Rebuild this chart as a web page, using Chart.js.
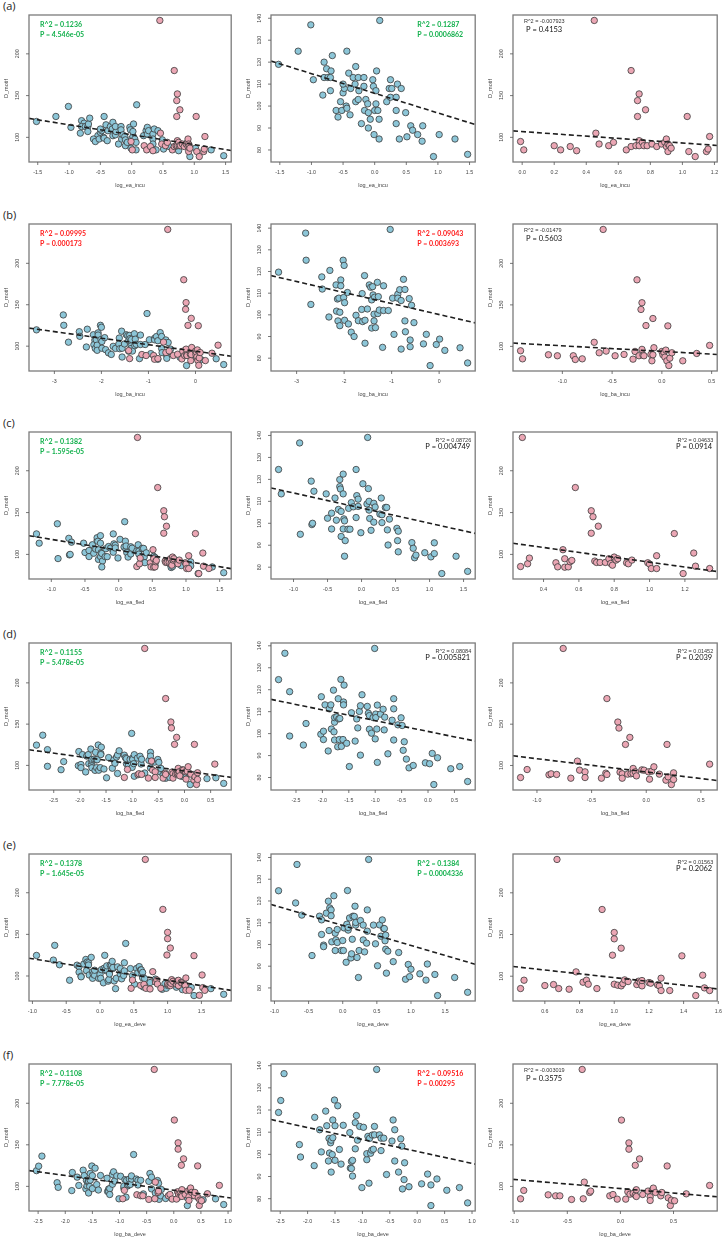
<!DOCTYPE html>
<html>
<head>
<meta charset="utf-8">
<script src="https://cdn.jsdelivr.net/npm/chart.js@4.4.0/dist/chart.umd.min.js"></script>
<style>
body { margin: 0; background: #fff; width: 724px; height: 1240px; position: relative; overflow: hidden; }
canvas { position: absolute; }
.tag { position: absolute; left: 3px; font: 11px "Open Sans", sans-serif; color: #222; line-height: 14px; }
</style>
</head>
<body>
<script>
// Points [x, y]: blue group (middle column), pink group (right column)
const blueA = [[-1.52,119],[-1.01,137],[-1.21,125],[-0.97,112],[-0.80,120],[-0.76,117],[-0.80,113],[-0.74,113],[-0.70,113],[-0.69,116],
  [-0.67,123],[-0.70,107],[-0.82,105],[-0.54,102],[-0.50,106],[-0.48,108],[-0.50,110],[-0.61,98],[-0.58,95],[-0.52,98],
  [-0.45,100],[-0.44,99],[-0.44,125],[-0.41,115],[-0.39,96],[-0.38,108],[-0.34,113],[-0.30,118],[-0.31,110],[-0.30,102],
  [-0.26,103],[-0.25,107],[-0.26,113],[-0.21,92],[-0.17,113],[-0.17,109],[-0.16,98],[-0.14,103],[-0.11,101],[-0.10,97],
  [-0.10,90],[-0.07,94],[-0.03,112],[-0.02,109],[-0.01,87],[0.00,98],[0.02,101],[0.02,107],[0.03,116],[0.05,98],
  [0.07,85],[0.07,94],[0.08,139],[0.19,102],[0.23,108],[0.25,104],[0.25,112],[0.27,108],[0.34,104],[0.34,98],
  [0.34,92],[0.36,110],[0.39,85],[0.42,108],[0.49,97],[0.51,86],[0.57,91],[0.60,89],[0.68,87],[0.75,84],
  [0.76,91],[1.02,87],[1.27,85],[0.93,77],[1.47,78]];
const pinkA = [[-0.01,95],[0.01,85],[0.20,90],[0.24,85],[0.30,89],[0.34,84],[0.45,240],[0.46,105],[0.48,92],[0.54,90],
  [0.57,94],[0.65,85],[0.68,89],[0.68,180],[0.71,90],[0.72,125],[0.72,144],[0.73,152],[0.73,96],[0.73,90],
  [0.75,94],[0.76,90],[0.77,133],[0.78,90],[0.81,92],[0.84,89],[0.87,92],[0.89,94],[0.90,98],[0.90,89],
  [0.91,92],[0.91,83],[0.92,90],[0.93,87],[1.03,125],[1.04,83],[1.08,77],[1.15,83],[1.16,86],[1.17,101]];

const blueB = [[-3.38,119.7],[-2.81,137.7],[-2.80,125.2],[-2.70,104.8],[-2.47,117.5],[-2.46,111.9],[-2.32,99],[-2.30,120.5],[-2.17,113.8],[-2.14,107.3],
  [-2.16,101.7],[-2.13,97.2],[-2.11,107.7],[-2.09,101.2],[-2.09,95],[-2.07,116.1],[-2.07,113.4],[-2.02,125.2],[-2.00,122.8],[-2.01,108],
  [-1.99,105.6],[-1.99,97.5],[-1.93,110.3],[-1.91,95.8],[-1.85,92],[-1.79,90],[-1.75,99.8],[-1.70,97.3],[-1.62,109.8],[-1.63,102.5],
  [-1.61,96.9],[-1.57,118.1],[-1.56,97.5],[-1.56,86.9],[-1.51,102.7],[-1.47,113.8],[-1.44,112.7],[-1.42,106.9],[-1.42,93.9],[-1.40,113],
  [-1.39,109.2],[-1.37,100.3],[-1.37,97.2],[-1.36,108.1],[-1.34,94.1],[-1.30,115],[-1.28,108.4],[-1.29,100.6],[-1.26,102.2],[-1.19,85],
  [-1.17,113.4],[-1.17,102],[-1.07,102],[-1.03,139.4],[-0.98,107.7],[-0.95,91],[-0.87,109.5],[-0.87,107.7],[-0.83,111.6],[-0.80,106.6],
  [-0.80,84.2],[-0.75,116.4],[-0.72,111.7],[-0.72,97.2],[-0.71,92.2],[-0.63,107.5],[-0.61,88.4],[-0.61,85.3],[-0.58,104.4],[-0.53,96.4],
  [-0.33,86.6],[-0.27,91],[-0.19,76.6],[-0.06,86.3],[0.01,88.8],[0.12,83.6],[0.44,84.8],[0.60,77.8]];
const pinkB = [[-1.42,94.7],[-1.40,85],[-1.14,89.9],[-1.05,88.7],[-0.89,88.7],[-0.87,84.2],[-0.80,85],[-0.68,104.9],[-0.63,92.3],[-0.59,240.9],
  [-0.56,94.3],[-0.47,88.7],[-0.38,90.3],[-0.29,84.6],[-0.27,93.9],[-0.25,180.2],[-0.23,88.7],[-0.21,144.5],[-0.20,152.6],[-0.20,96.4],
  [-0.19,89.5],[-0.18,88.7],[-0.16,125.1],[-0.11,90.3],[-0.10,82.6],[-0.09,133.6],[-0.09,89.9],[-0.08,98.4],[0.00,93.9],[0.01,89.9],
  [0.02,92.7],[0.03,87],[0.04,95.5],[0.05,82.6],[0.07,76.9],[0.06,124.7],[0.08,85.8],[0.10,92.3],[0.21,82.6],[0.35,91.5],[0.48,101.2]];

const blueC = [[-1.22,124.5],[-1.18,113.4],[-0.91,136.6],[-0.90,95],[-0.74,119.2],[-0.73,99.4],[-0.72,100],[-0.70,114.6],[-0.52,113.4],[-0.50,102.3],
  [-0.44,97.4],[-0.44,104.6],[-0.39,111.5],[-0.37,101.4],[-0.34,106.3],[-0.32,116.7],[-0.32,119.9],[-0.31,115.6],[-0.30,105.4],[-0.30,94],
  [-0.27,97.4],[-0.27,113.4],[-0.27,122.4],[-0.26,102],[-0.25,101.1],[-0.24,92.1],[-0.25,85],[-0.20,97.3],[-0.19,106.8],[-0.17,97.3],
  [-0.15,109.4],[-0.12,107.5],[-0.08,102.6],[-0.08,124.5],[-0.07,112.6],[-0.05,111],[-0.05,107.7],[-0.01,95.7],[0.02,118],[0.08,108.8],
  [0.09,139.1],[0.10,115.8],[0.11,106],[0.11,110],[0.12,102.2],[0.14,96.8],[0.18,109.1],[0.18,100.5],[0.20,107.4],[0.27,104.2],
  [0.29,111.5],[0.30,103.9],[0.30,100.3],[0.35,107.2],[0.37,107.2],[0.38,97],[0.39,90.1],[0.41,101.9],[0.52,97.7],[0.53,92.1],
  [0.54,96.4],[0.54,87],[0.74,91.2],[0.76,88.6],[0.78,84.3],[0.80,85.5],[0.93,86.6],[1.02,84.7],[1.07,91.1],[1.07,86.2],
  [1.18,77.1],[1.39,85],[1.56,78.1]];
const pinkC = [[0.27,85.5],[0.28,239.8],[0.31,88.8],[0.32,95.6],[0.47,90],[0.48,85.1],[0.51,105.6],[0.52,84.7],[0.52,94.8],[0.54,85.1],
  [0.55,91.2],[0.56,92.8],[0.58,179.9],[0.67,152.2],[0.67,125.3],[0.68,145],[0.69,92],[0.70,90.4],[0.71,133.7],[0.72,90.4],
  [0.75,90.4],[0.77,94.8],[0.78,89.2],[0.79,87.1],[0.80,96.8],[0.81,93.2],[0.82,94.8],[0.87,90],[0.88,88.8],[0.90,93.2],
  [0.99,90],[1.00,88.4],[1.01,83.1],[1.04,83.1],[1.04,98.4],[1.14,124.9],[1.19,77.1],[1.25,101.6],[1.26,85.9],[1.34,83.1]];

const blueD = [[-2.83,124.6],[-2.71,136.6],[-2.62,98.9],[-2.62,119.1],[-2.36,94.8],[-2.31,104.6],[-2.02,116.8],[-2.03,99.7],[-1.98,101.1],[-1.98,97.3],
  [-1.95,113.1],[-1.89,92.1],[-1.87,111.3],[-1.84,113.1],[-1.83,102.1],[-1.79,119.8],[-1.78,100.8],[-1.77,105.2],[-1.77,107.3],[-1.77,97.1],
  [-1.73,107.6],[-1.71,94],[-1.70,115.9],[-1.69,106.7],[-1.68,97.3],[-1.67,106.9],[-1.65,124.7],[-1.64,94.2],[-1.61,97.3],[-1.60,114.4],
  [-1.60,113.1],[-1.59,122.1],[-1.54,95.6],[-1.49,85],[-1.45,109.5],[-1.38,96.6],[-1.35,106.7],[-1.33,102.6],[-1.30,110.1],[-1.28,112.7],
  [-1.28,90.2],[-1.25,117.7],[-1.15,112.4],[-1.13,109.3],[-1.11,102],[-1.11,108.2],[-1.07,100.2],[-1.04,107.3],[-1.01,138.8],[-1.00,97.6],
  [-0.99,108.9],[-0.99,107.3],[-0.97,102.1],[-0.96,113],[-0.96,86.9],[-0.90,108.9],[-0.85,111.1],[-0.83,101.7],[-0.82,107.5],[-0.76,90.8],
  [-0.68,106.1],[-0.65,115.9],[-0.65,111.3],[-0.65,97.1],[-0.57,104],[-0.51,107.2],[-0.49,103.7],[-0.47,92.4],[-0.45,96.3],[-0.41,88.4],
  [-0.36,84.4],[-0.28,85.5],[-0.05,86.7],[0.03,86.3],[0.08,91],[0.11,76.8],[0.18,89],[0.43,84],[0.60,85],[0.75,78.2]];
const pinkD = [[-1.15,85.4],[-1.09,95.1],[-0.89,88.7],[-0.87,89.9],[-0.82,89.1],[-0.76,241.7],[-0.69,84.6],[-0.63,105.3],[-0.61,94.3],[-0.56,92.3],
  [-0.56,85.4],[-0.41,84.6],[-0.37,90.7],[-0.36,89.1],[-0.36,181],[-0.26,152.6],[-0.25,145.3],[-0.24,91.9],[-0.22,89.9],[-0.22,84.6],
  [-0.19,125.5],[-0.17,89.5],[-0.15,134],[-0.14,89.9],[-0.12,96.4],[-0.12,90.3],[-0.10,92.3],[-0.09,87.4],[-0.04,94.7],[-0.02,94.3],
  [0.02,92.3],[0.03,83.4],[0.05,93.1],[0.07,98.4],[0.12,89.5],[0.18,82.2],[0.19,125.5],[0.20,86.2],[0.23,76.9],[0.25,91.1],
  [0.25,83],[0.58,101.6]];

const blueE = [[-0.94,124.7],[-0.69,119.1],[-0.67,136.8],[-0.60,113.5],[-0.45,94.9],[-0.34,113],[-0.31,111.3],[-0.31,104.6],[-0.28,99.7],[-0.28,99],
  [-0.24,114.4],[-0.21,119.9],[-0.20,106.4],[-0.19,116.8],[-0.17,115.9],[-0.17,113.2],[-0.16,101.2],[-0.13,122.4],[-0.11,97.2],[-0.11,105.2],
  [-0.10,102.1],[-0.08,100.9],[-0.08,106.9],[-0.02,97.2],[0.00,101.8],[0.01,97.2],[0.02,107.6],[0.05,91.8],[0.06,109.3],[0.07,124.8],
  [0.08,106.6],[0.08,107.8],[0.10,112.2],[0.12,93.8],[0.13,95.7],[0.14,102.4],[0.15,113],[0.17,112.9],[0.18,117.6],[0.19,108.9],
  [0.19,110.1],[0.21,94],[0.23,84.8],[0.24,97.2],[0.26,111],[0.30,108.9],[0.30,102.1],[0.32,96.6],[0.35,100.6],[0.36,115.9],
  [0.36,106.1],[0.38,139.1],[0.45,108.9],[0.48,100.3],[0.51,90.2],[0.54,109],[0.56,103.8],[0.58,111.3],[0.60,107.3],[0.61,107.3],
  [0.62,101.7],[0.63,104.3],[0.63,97.8],[0.64,86.8],[0.66,96.9],[0.74,92.1],[0.82,96.3],[0.92,84],[0.96,90.8],[0.98,85.2],
  [1.00,88.6],[1.13,86.5],[1.22,83.6],[1.24,91],[1.35,86.2],[1.39,76.5],[1.64,84.8],[1.83,78]];
const pinkE = [[0.46,85.2],[0.48,95.2],[0.60,88.8],[0.65,90],[0.68,85.2],[0.67,240],[0.74,84.4],[0.78,105.2],[0.82,92.8],[0.84,95.2],
  [0.85,90.4],[0.90,85.2],[0.93,180],[0.99,125.2],[1.00,144.8],[1.00,152.4],[1.00,90.4],[1.02,89.2],[1.04,133.6],[1.04,88.4],
  [1.05,91.2],[1.06,95.6],[1.08,93.6],[1.13,90],[1.14,94],[1.15,92.4],[1.16,88.4],[1.16,94.8],[1.20,92.4],[1.21,91.6],
  [1.25,89.6],[1.26,88.4],[1.27,97.6],[1.27,82.8],[1.32,82.8],[1.39,124.4],[1.47,76.8],[1.51,101.2],[1.52,86],[1.55,82.8]];

const blueF = [[-2.53,118.9],[-2.49,124.3],[-2.43,136.4],[-2.15,104.4],[-2.13,98.8],[-1.88,94.9],[-1.87,116.7],[-1.78,111.1],[-1.75,101.1],[-1.67,119.5],
  [-1.65,112.9],[-1.62,97],[-1.61,107.2],[-1.60,100.6],[-1.58,105.2],[-1.57,106.4],[-1.57,92],[-1.55,99.9],[-1.54,107.5],[-1.54,115.5],
  [-1.51,124.5],[-1.50,97.3],[-1.50,112.9],[-1.45,121.9],[-1.42,102.2],[-1.39,95.6],[-1.35,113.1],[-1.23,109.8],[-1.22,93.8],[-1.20,96.8],
  [-1.20,93.6],[-1.18,97.3],[-1.18,90.2],[-1.13,114.3],[-1.13,102.5],[-1.11,117.5],[-1.09,106.4],[-1.05,112.6],[-1.01,85],[-0.98,112.2],
  [-0.92,97.6],[-0.92,100.3],[-0.90,108.1],[-0.88,87],[-0.87,107.2],[-0.85,100.5],[-0.83,101.9],[-0.82,108.7],[-0.80,102.3],[-0.78,108.8],
  [-0.78,112.6],[-0.74,138.3],[-0.69,108.8],[-0.66,107.3],[-0.66,101.7],[-0.61,107.3],[-0.56,90.9],[-0.46,106],[-0.44,115.5],[-0.41,111.1],
  [-0.41,97],[-0.34,92],[-0.30,107],[-0.28,103.7],[-0.27,84.4],[-0.24,88.6],[-0.23,96.2],[-0.15,85.4],[0.08,86.7],[0.19,91.1],
  [0.25,76.9],[0.25,86.2],[0.36,88.9],[0.54,83.8],[0.77,85],[0.92,78.1]];
const pinkF = [[-0.94,85.1],[-0.91,95.2],[-0.68,89.9],[-0.61,88.7],[-0.57,88.7],[-0.46,84.3],[-0.36,240.7],[-0.35,85.1],[-0.34,105.2],[-0.29,92.7],
  [-0.28,94.4],[-0.10,88.7],[-0.07,90.3],[-0.03,84.7],[0.01,179.8],[0.05,84.7],[0.07,93.5],[0.08,152.4],[0.08,144.8],[0.09,90.7],
  [0.12,91.5],[0.14,125.4],[0.14,89.5],[0.15,96],[0.15,87.9],[0.18,133.1],[0.21,90.3],[0.26,94.4],[0.28,87.5],[0.28,83.1],
  [0.30,95.6],[0.31,98],[0.33,92.7],[0.38,88.7],[0.39,92.7],[0.44,124.6],[0.45,86.3],[0.47,77],[0.48,83.5],[0.51,82.7],
  [0.62,91.1],[0.84,101.2]];

// Dashed fit lines: y at left edge and right edge of each panel
const fitAll  = [[122.7,84.2],[121.8,87.9],[122.3,83],[118.9,85.5],[121.3,82.7],[119,86]];
const fitBlue = [[120.5,91.6],[118.1,96.3],[116.1,95.4],[115.6,96.6],[118.4,90.9],[115.7,95.6]];
const fitPink = [[107.7,90.3],[104,90.3],[113.3,79.5],[111.7,81.8],[111.6,84.8],[108.5,87.5]];

// Tick labels
const yTicksWide = [100, 150, 200];
const yTicksBlue = [80, 90, 100, 110, 120, 130, 140];
const xTicksA = [-1.5, -1, -0.5, 0, 0.5, 1, 1.5];
const xTicksAPink = [0, 0.2, 0.4, 0.6, 0.8, 1, 1.2];
const xTicksB = [-3, -2, -1, 0];
const xTicksBPink = [-1, -0.5, 0, 0.5];
const xTicksC = [-1, -0.5, 0, 0.5, 1, 1.5];
const xTicksCPink = [0.4, 0.6, 0.8, 1, 1.2];
const xTicksD = [-2.5, -2, -1.5, -1, -0.5, 0, 0.5];
const xTicksDPink = [-1, -0.5, 0, 0.5];
const xTicksE = [-1, -0.5, 0, 0.5, 1, 1.5];
const xTicksEPink = [0.6, 0.8, 1, 1.2, 1.4, 1.6];
const xTicksF = [-2.5, -2, -1.5, -1, -0.5, 0, 0.5, 1];
const xTicksFPink = [-1, -0.5, 0, 0.5];

const xTitles = ['log_ea_incu', 'log_ba_incu', 'log_ea_fled', 'log_ba_fled', 'log_ea_deve', 'log_ba_deve'];
const rowTags = ['(a)', '(b)', '(c)', '(d)', '(e)', '(f)'];

// Statistics written in each panel
const statR2 = [
  ['R^2 = 0.1236', 'R^2 = 0.1287', 'R^2 = -0.007923'],
  ['R^2 = 0.09995', 'R^2 = 0.09043', 'R^2 = -0.01479'],
  ['R^2 = 0.1382', 'R^2 = 0.08726', 'R^2 = 0.04633'],
  ['R^2 = 0.1155', 'R^2 = 0.08084', 'R^2 = 0.01452'],
  ['R^2 = 0.1378', 'R^2 = 0.1384', 'R^2 = 0.01563'],
  ['R^2 = 0.1108', 'R^2 = 0.09516', 'R^2 = -0.003019']
];
const statP = [
  ['P = 4.546e-05', 'P = 0.0006862', 'P = 0.4153'],
  ['P = 0.000173', 'P = 0.003693', 'P = 0.5603'],
  ['P = 1.595e-05', 'P = 0.004749', 'P = 0.0914'],
  ['P = 5.478e-05', 'P = 0.005821', 'P = 0.2039'],
  ['P = 1.645e-05', 'P = 0.0004336', 'P = 0.2062'],
  ['P = 7.778e-05', 'P = 0.00295', 'P = 0.3575']
];
const statColor = [
  ['green', 'green', 'plain'],
  ['red', 'red', 'plain'],
  ['green', 'plain', 'plain'],
  ['green', 'plain', 'plain'],
  ['green', 'green', 'plain'],
  ['green', 'red', 'plain']
];
const statCorner = [
  ['tl', 'tr', 'tl'],
  ['tl', 'tr', 'tl'],
  ['tl', 'tr', 'tr'],
  ['tl', 'tr', 'tr'],
  ['tl', 'tr', 'tr'],
  ['tl', 'tr', 'tl']
];

const blueSets = [blueA, blueB, blueC, blueD, blueE, blueF];
const pinkSets = [pinkA, pinkB, pinkC, pinkD, pinkE, pinkF];
const xTickSets = [[xTicksA, xTicksAPink], [xTicksB, xTicksBPink], [xTicksC, xTicksCPink],
                   [xTicksD, xTicksDPink], [xTicksE, xTicksEPink], [xTicksF, xTicksFPink]];

// Layout
const rowTops = [15, 224, 432, 643, 854, 1064];
const colLefts = [29, 271, 513];
const boxW = [203, 205, 205];
const boxH = 147;
const PAD = { left: 29, right: 4, top: 12, bottom: 30 };

const BLUE = '#8cc6d8', PINK = '#eba6b4', EDGE = '#3b3b3b';
const GREEN = '#12b04c', RED = '#ff1a1a';
const AXIS_FONT = '"Liberation Sans", Arial, sans-serif';
const NOTE_FONT = 'Lato, "Open Sans", sans-serif';

// R's default axis range: data range stretched by 4% each side
function rRange(vals) {
    const lo = Math.min(...vals), hi = Math.max(...vals), e = (hi - lo) * 0.04;
    return [lo - e, hi + e];
}

function toXY(list) {
    return list.map(p => ({ x: p[0], y: p[1] }));
}

function pointSet(list, fill) {
    return {
        data: toXY(list),
        backgroundColor: fill,
        borderColor: EDGE,
        borderWidth: 0.8,
        pointRadius: 3.2,
        order: 2
    };
}

// Box, ticks, axis titles and stats, drawn R-style
function drawFrame(chart, cfg) {
    const { ctx, chartArea: a } = chart;
    const x = chart.scales.x, y = chart.scales.y;
    ctx.save();
    ctx.strokeStyle = '#7b7b7b';
    ctx.lineWidth = 1.3;
    ctx.strokeRect(a.left, a.top, a.right - a.left, a.bottom - a.top);

    ctx.lineWidth = 0.8;
    ctx.strokeStyle = '#555';
    ctx.fillStyle = '#444';
    ctx.font = '5.3px ' + AXIS_FONT;
    ctx.textAlign = 'center';
    ctx.textBaseline = 'middle';
    cfg.xTicks.forEach(v => {
        const px = x.getPixelForValue(v);
        ctx.beginPath();
        ctx.moveTo(px, a.bottom);
        ctx.lineTo(px, a.bottom + 3);
        ctx.stroke();
        ctx.fillText(v.toFixed(cfg.dec), px, a.bottom + 11);
    });
    cfg.yTicks.forEach(v => {
        const py = y.getPixelForValue(v);
        ctx.beginPath();
        ctx.moveTo(a.left, py);
        ctx.lineTo(a.left - 3, py);
        ctx.stroke();
        ctx.save();
        ctx.translate(a.left - 11, py);
        ctx.rotate(-Math.PI / 2);
        ctx.fillText(String(v), 0, 0);
        ctx.restore();
    });

    ctx.font = '5.5px ' + AXIS_FONT;
    ctx.fillText(cfg.xTitle, (a.left + a.right) / 2, a.bottom + 23);
    ctx.save();
    ctx.translate(a.left - 23, (a.top + a.bottom) / 2);
    ctx.rotate(-Math.PI / 2);
    ctx.fillText('D_motif', 0, 0);
    ctx.restore();

    // stats
    if (cfg.color === 'plain') {
        if (cfg.corner === 'tl') {
            ctx.textAlign = 'left';
            ctx.fillStyle = '#333';
            ctx.font = '5.5px ' + AXIS_FONT;
            ctx.fillText(cfg.r2, a.left + 11, a.top + 6.5);
            ctx.fillStyle = '#111';
            ctx.font = '7.5px ' + NOTE_FONT;
            ctx.fillText(cfg.p, a.left + 13, a.top + 14.5);
        } else {
            ctx.textAlign = 'right';
            ctx.fillStyle = '#333';
            ctx.font = '5.5px ' + AXIS_FONT;
            ctx.fillText(cfg.r2, a.right - 4, a.top + 8);
            ctx.fillStyle = '#111';
            ctx.font = '7.5px ' + NOTE_FONT;
            ctx.fillText(cfg.p, a.right - 5, a.top + 15);
        }
    } else {
        ctx.textAlign = 'left';
        ctx.fillStyle = cfg.color === 'green' ? GREEN : RED;
        ctx.font = 'bold 7px ' + NOTE_FONT;
        const tx = cfg.corner === 'tl' ? a.left + 11 : a.right - 58;
        ctx.fillText(cfg.r2, tx, a.top + 10);
        ctx.fillText(cfg.p, tx, a.top + 19.5);
    }
    ctx.restore();
}

function makePanel(row, col) {
    const blue = blueSets[row], pink = pinkSets[row];
    const pts = col === 0 ? blue.concat(pink) : (col === 1 ? blue : pink);
    const xr = rRange(pts.map(p => p[0]));
    const yr = rRange(pts.map(p => p[1]));
    const fit = [fitAll, fitBlue, fitPink][col][row];

    const canvas = document.createElement('canvas');
    const w = boxW[col] + PAD.left + PAD.right;
    const h = boxH + PAD.top + PAD.bottom;
    canvas.width = w;
    canvas.height = h;
    canvas.style.left = (colLefts[col] - PAD.left) + 'px';
    canvas.style.top = (rowTops[row] - PAD.top) + 'px';
    document.body.appendChild(canvas);

    const datasets = [{
        type: 'line',
        data: [{ x: xr[0], y: fit[0] }, { x: xr[1], y: fit[1] }],
        borderColor: '#1e1e1e',
        borderWidth: 1.6,
        borderDash: [5, 3],
        pointRadius: 0,
        showLine: true,
        fill: false,
        order: 0
    }];
    if (col !== 2) datasets.push(pointSet(blue, BLUE));
    if (col !== 1) {
        const ds = pointSet(pink, PINK);
        ds.order = 1;
        datasets.push(ds);
    }

    const cfg = {
        xTicks: xTickSets[row][col === 2 ? 1 : 0],
        yTicks: col === 1 ? yTicksBlue : yTicksWide,
        dec: (row === 1 && col !== 2) ? 0 : 1,
        xTitle: xTitles[row],
        r2: statR2[row][col],
        p: statP[row][col],
        color: statColor[row][col],
        corner: statCorner[row][col]
    };

    new Chart(canvas, {
        type: 'scatter',
        data: { datasets },
        options: {
            responsive: false,
            animation: false,
            devicePixelRatio: 1,
            layout: { padding: PAD },
            plugins: { legend: { display: false }, tooltip: { enabled: false } },
            scales: {
                x: { type: 'linear', min: xr[0], max: xr[1], display: false },
                y: { type: 'linear', min: yr[0], max: yr[1], display: false }
            }
        },
        plugins: [{ id: 'rframe', afterDatasetsDraw(chart) { drawFrame(chart, cfg); } }]
    });
}

for (let r = 0; r < 6; r++) {
    const tag = document.createElement('div');
    tag.className = 'tag';
    tag.style.top = (rowTops[r] - 16) + 'px';
    tag.textContent = rowTags[r];
    document.body.appendChild(tag);
    for (let c = 0; c < 3; c++) makePanel(r, c);
}
</script>
</body>
</html>
